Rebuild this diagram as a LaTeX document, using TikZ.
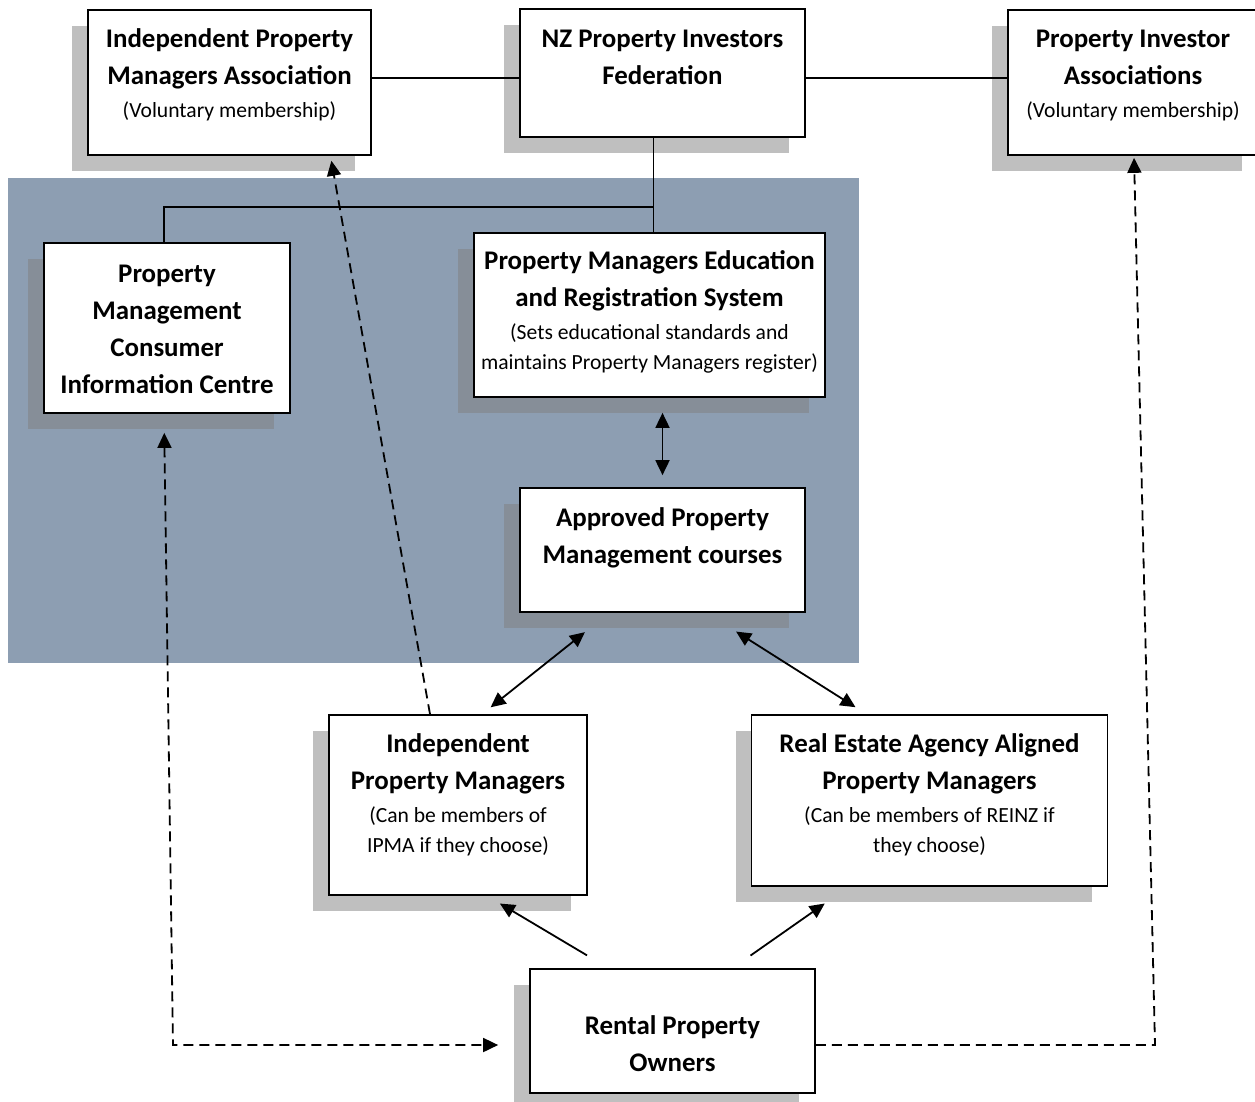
\documentclass[tikz,border=0pt]{standalone}
\usepackage{fontspec}
\setmainfont{Carlito}
\usetikzlibrary{arrows.meta,shadows,calc}

\definecolor{panelblue}{RGB}{141,158,178}
\newcommand{\subline}[1]{{\fontsize{21.6}{30}\selectfont\mdseries #1}}

\begin{document}
\begin{tikzpicture}[
    x=1pt, y=-1pt,
    >={Triangle[length=15pt,width=14pt]},
    box/.style={draw, line width=1.7pt, fill=white, align=center,
        inner xsep=0pt, inner ysep=0pt,
        font=\fontsize{26.9}{37}\selectfont\bfseries,
        drop shadow={shadow xshift=-16pt, shadow yshift=-16pt}},
    orgline/.style={line width=1.4pt},
    arr/.style={line width=1.8pt, ->},
    twoway/.style={line width=1.8pt, <->},
    dashline/.style={line width=1.8pt, dash pattern=on 10pt off 6pt},
]
\useasboundingbox (0,0) rectangle (1255,1101);

% shaded panel behind the education system
\fill[panelblue] (8,178) rectangle (859,663);

% top row
\node[box, minimum width=283, text height=107, text depth=38] (ipma) at (229.5,82.5)
    {Independent Property\\Managers Association\\[-4pt]\subline{(Voluntary membership)}};
\node[box, minimum width=285, text height=75.7, text depth=52.3] (nzpif) at (662.5,73)
    {NZ Property Investors\\Federation};
\node[box, minimum width=250, text height=107, text depth=38] (pia) at (1133,82.5)
    {Property Investor\\Associations\\[-4pt]\subline{(Voluntary membership)}};

% inside the panel
\node[box, minimum width=246, text height=150, text depth=20] (pmcic) at (167,328)
    {Property\\Management\\Consumer\\Information Centre};
\node[box, minimum width=351, text height=136, text depth=28] (pmers) at (649.5,315)
    {Property Managers Education\\and Registration System\\[-4pt]\subline{(Sets educational standards and}\\[-7pt]\subline{maintains Property Managers register)}};
\node[box, minimum width=285, text height=75, text depth=49] (appr) at (662.5,550)
    {Approved Property\\Management courses};

% managers and owners
\node[box, minimum width=258, text height=137, text depth=43] (ipm) at (458,805)
    {Independent\\Property Managers\\[-4pt]\subline{(Can be members of}\\[-7pt]\subline{IPMA if they choose)}};
\node[box, minimum width=356, text height=137, text depth=34] (reaapm) at (929.5,800.5)
    {Real Estate Agency Aligned\\Property Managers\\[-4pt]\subline{(Can be members of REINZ if}\\[-7pt]\subline{they choose)}};
\node[box, minimum width=285, text height=102, text depth=22] (rpo) at (672.5,1031)
    {Rental Property\\Owners};

% federation links
\draw[orgline] ($(ipma.east)+(0,-4.5)$) -- ($(ipma.east -| nzpif.west)+(0,-4.5)$);
\draw[orgline] ($(pia.west)+(0,-4.5)$) -- ($(pia.west -| nzpif.east)+(0,-4.5)$);
\draw[orgline] ($(nzpif.south)+(-9,0)$) -- ($(pmers.north)+(4,0)$);
\draw[orgline] (pmcic.north) ++(-3,0) |- ($(pmers.north)+(4,-25)$);

% two-way links
\draw[twoway, shorten <=15pt, shorten >=12pt] (appr.north |- pmers.south) -- (appr.north);
\draw[twoway, shorten <=31pt, shorten >=11pt] ($(appr.south west)+(90,0)$) -- ($(ipm.north)+(24,0)$);
\draw[twoway, shorten <=35pt, shorten >=13pt] ($(appr.south)+(44,0)$) -- ($(reaapm.north)+(-63,0)$);

% owners choose a manager
\draw[arr, shorten <=25pt, shorten >=15pt] ($(rpo.north)+(-64,0)$) -- ($(ipm.south)+(29,0)$);
\draw[arr, shorten <=22pt, shorten >=29pt] ($(rpo.north)+(60,0)$) -- ($(reaapm.south)+(-81,0)$);

% dashed links
\draw[dashline, ->, shorten >=5pt] ($(ipm.north)+(-28,0)$) -- ($(ipma.south)+(101,0)$);
\draw[dashline, <->, shorten <=19pt, shorten >=31pt] ($(pmcic.south)+(-3,0)$)
    -- ($(pmcic.south |- rpo.west)+(6,14)$) -- ($(rpo.west)+(0,14)$);
\draw[dashline, ->, shorten >=2pt] ($(rpo.east)+(0,14)$)
    -- ($(pia.south |- rpo.east)+(22,14)$) -- ($(pia.south)+(1,0)$);

\end{tikzpicture}
\end{document}
